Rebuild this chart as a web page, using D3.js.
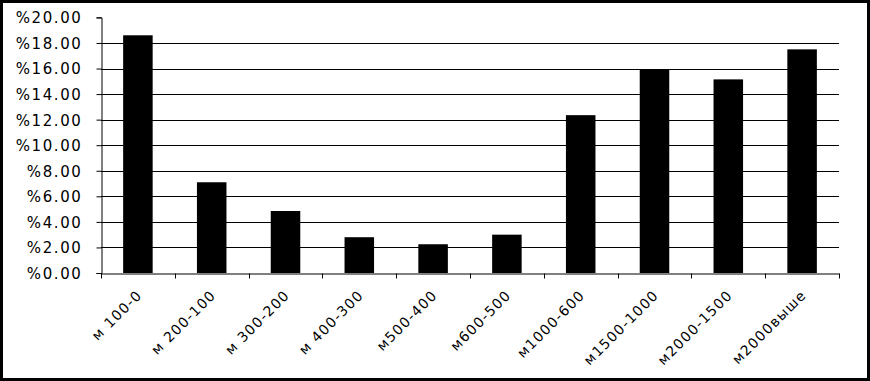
<!DOCTYPE html>
<html>
<head>
<meta charset="utf-8">
<script src="https://cdn.jsdelivr.net/npm/d3@7"></script>
<style>
  body { margin: 0; background: #fff; }
  svg text { font-family: "DejaVu Sans", sans-serif; fill: #000; }
</style>
</head>
<body>
<div id="main"></div>
<script>
const ctx = {
    w: 870,
    h: 381,
    left: 101,
    right: 839,
    top: 17.4,
    bottom: 273
};

// categories (x axis) and shares in percent
const categories = ["м 100-0", "м 200-100", "м 300-200", "м 400-300", "м500-400",
    "м600-500", "м1000-600", "м1500-1000", "м2000-1500", "м2000выше"];
const shares = [18.6, 7.1, 4.85, 2.8, 2.25, 3.0, 12.35, 15.9, 15.15, 17.5];
const yTicks = [0, 2, 4, 6, 8, 10, 12, 14, 16, 18, 20];

function createViz() {
    let svg = d3.select("#main").append("svg")
        .attr("width", ctx.w)
        .attr("height", ctx.h);

    // outer frame
    svg.append("rect")
        .attr("x", 1.5)
        .attr("y", 1.5)
        .attr("width", 867)
        .attr("height", 378)
        .attr("fill", "#fff")
        .attr("stroke", "#000")
        .attr("stroke-width", 3);

    let xScale = d3.scaleBand()
        .domain(categories)
        .range([ctx.left, ctx.right])
        .paddingInner(0.6)
        .paddingOuter(0.3);
    let xTickScale = d3.scaleBand()
        .domain(categories)
        .range([ctx.left, ctx.right]);
    let yScale = d3.scaleLinear()
        .domain([0, 20])
        .range([ctx.bottom, ctx.top]);

    // gridlines (none at the top value)
    svg.append("g")
        .selectAll("line")
        .data(yTicks.filter((d) => d > 0 && d < 20))
        .enter()
        .append("line")
            .attr("x1", ctx.left)
            .attr("x2", ctx.right)
            .attr("y1", (d) => Math.round(yScale(d)) + 0.5)
            .attr("y2", (d) => Math.round(yScale(d)) + 0.5)
            .attr("stroke", "#000")
            .attr("stroke-width", 1);

    // bars
    svg.append("g")
        .selectAll("rect")
        .data(shares)
        .enter()
        .append("rect")
            .attr("x", (d, i) => xScale(categories[i]))
            .attr("y", (d) => yScale(d))
            .attr("width", xScale.bandwidth())
            .attr("height", (d) => ctx.bottom - yScale(d))
            .attr("fill", "#000");

    // y axis
    let yAxis = d3.axisLeft(yScale)
        .tickValues(yTicks)
        .tickSize(5)
        .tickPadding(14)
        .tickFormat((d) => "%" + d.toFixed(2));
    let yG = svg.append("g")
        .attr("transform", "translate(" + (ctx.left + 0.5) + ",0)")
        .call(yAxis);
    yG.select(".domain").attr("stroke", "#000");
    yG.selectAll(".tick text")
        .attr("font-size", "15px")
        .attr("letter-spacing", "1.6px")
        .attr("dy", "0.36em");

    // x axis
    let xAxis = d3.axisBottom(xTickScale)
        .tickSize(0)
        .tickFormat("");
    let xG = svg.append("g")
        .attr("transform", "translate(0," + (ctx.bottom + 0.5) + ")")
        .call(xAxis);
    xG.select(".domain").attr("stroke", "#000");
    xG.selectAll(".tick").remove();
    // tick marks on band boundaries
    xG.selectAll("line.bt")
        .data(categories.concat(["end"]))
        .enter()
        .append("line")
            .attr("class", "bt")
            .attr("x1", (d, i) => Math.round(ctx.left + i * xTickScale.step()) + 0.5)
            .attr("x2", (d, i) => Math.round(ctx.left + i * xTickScale.step()) + 0.5)
            .attr("y1", 0)
            .attr("y2", 5)
            .attr("stroke", "#000");

    // rotated category labels
    svg.append("g")
        .selectAll("text")
        .data(categories)
        .enter()
        .append("text")
            .attr("transform", (d) => "translate(" + (xTickScale(d) + xTickScale.bandwidth() / 2 + 5) + "," + (ctx.bottom + 23) + ") rotate(-45)")
            .attr("text-anchor", "end")
            .attr("font-size", "14px")
            .attr("letter-spacing", "1.2px")
            .text((d) => d);
}

createViz();
</script>
</body>
</html>
